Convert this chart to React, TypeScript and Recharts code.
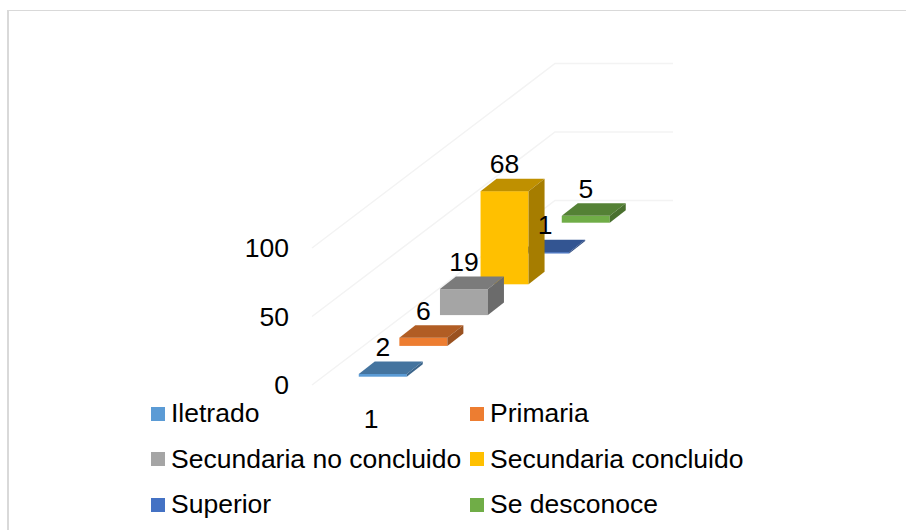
import React from "react";
import {
  BarChart,
  Bar,
  XAxis,
  YAxis,
  CartesianGrid,
  Legend,
  LabelList,
} from "recharts";

const FONT = '"Liberation Sans", Arial, sans-serif';
const TEXT_SIZE = 26.5;

// Reading order of the reference (front of the 3D chart first)
const levels = [
  "Iletrado",
  "Primaria",
  "Secundaria no concluido",
  "Secundaria concluido",
  "Superior",
  "Se desconoce",
];
const counts = [2, 6, 19, 68, 1, 5];
const frontColors = ["#5B9BD5", "#ED7D31", "#A5A5A5", "#FFC000", "#4472C4", "#70AD47"];
const topColors = ["#44749F", "#B15D24", "#7B7B7B", "#BF9000", "#335592", "#548135"];
const sideColors = ["#3B658B", "#9A5120", "#6B6B6B", "#A67D00", "#2C4A80", "#49702E"];
const yTicks = [0, 50, 100];
const categoryLabel = "1";

// Painted back to front, the reversed x axis puts them back in reading order
const data = levels
  .map((level, i) => ({ level, count: counts[i], depth: i }))
  .reverse();

// 3D projection
const ROW_LIFT = 30.8;
const FLOOR_LIFT = 8.3;
const BOX_WIDTH = 48;
const BOX_DX = 16;
const BOX_DY = 12.5;
const WALL_DX = 243;
const WALL_DY = 184.5;

const Box3D = (props: any) => {
  const { x, y, width, height, depth } = props;
  const lift = FLOOR_LIFT + ROW_LIFT * depth;
  const top = y - lift;
  const bottom = y + height - lift;
  // the band is narrower than a box, neighbours overlap like in the reference
  const left = x + width / 2 - BOX_WIDTH / 2;
  const right = left + BOX_WIDTH;
  return (
    <g>
      <rect x={left} y={top} width={BOX_WIDTH} height={height} fill={frontColors[depth]} />
      <polygon
        points={`${left},${top} ${left + BOX_DX},${top - BOX_DY} ${right + BOX_DX},${top - BOX_DY} ${right},${top}`}
        fill={topColors[depth]}
      />
      <polygon
        points={`${right},${top} ${right + BOX_DX},${top - BOX_DY} ${right + BOX_DX},${bottom - BOX_DY} ${right},${bottom}`}
        fill={sideColors[depth]}
      />
    </g>
  );
};

const BoxLabel = (props: any) => {
  const { x, y, width, value, index } = props;
  const depth = data[index].depth;
  return (
    <text
      x={x + width / 2}
      y={y - FLOOR_LIFT - ROW_LIFT * depth - 27}
      textAnchor="middle"
      dominantBaseline="central"
      fontSize={TEXT_SIZE}
      fontFamily={FONT}
      fill="#000"
    >
      {value}
    </text>
  );
};

const WallLine = (props: any) => {
  const { x1, y1, x2 } = props;
  const startX = x1 + 16;
  return (
    <polyline
      points={`${startX},${y1} ${startX + WALL_DX},${y1 - WALL_DY} ${x2},${y1 - WALL_DY}`}
      fill="none"
      stroke="#F3F3F3"
      strokeWidth={1.5}
    />
  );
};

const LegendGrid = () => (
  <div
    style={{
      display: "grid",
      gridTemplateColumns: "319px 300px",
      gridAutoRows: "45.5px",
      fontFamily: FONT,
      fontSize: TEXT_SIZE,
      color: "#000",
    }}
  >
    {levels.map((level, i) => (
      <div key={level} style={{ display: "flex", alignItems: "center", whiteSpace: "nowrap" }}>
        <span
          style={{
            width: 14,
            height: 14,
            marginRight: 6,
            background: frontColors[i],
            flex: "none",
          }}
        />
        {level}
      </div>
    ))}
  </div>
);

export default function App() {
  return (
    <div style={{ position: "absolute", left: 0, top: 0, width: 906, height: 530, overflow: "hidden" }}>
      <BarChart
        width={906}
        height={530}
        data={data}
        margin={{ top: 248, right: 233, bottom: 115, left: 0 }}
      >
        <CartesianGrid vertical={false} horizontal={WallLine} />
        <XAxis
          dataKey="level"
          reversed
          height={30}
          padding={{ left: 66.7, right: 66.7 }}
          axisLine={false}
          tickLine={false}
          ticks={[levels[0]]}
          interval={0}
          tickFormatter={() => categoryLabel}
          tick={{ fontSize: TEXT_SIZE, fontFamily: FONT, fill: "#000", dx: -12, dy: 16 }}
        />
        <YAxis
          width={296}
          domain={[0, 100]}
          ticks={yTicks}
          axisLine={false}
          tickLine={false}
          tickMargin={1}
          tick={{ fontSize: TEXT_SIZE, fontFamily: FONT, fill: "#000" }}
        />
        <Legend
          layout="horizontal"
          align="center"
          verticalAlign="middle"
          content={LegendGrid}
          wrapperStyle={{ left: 151, top: 391, width: 640 }}
        />
        <Bar
          dataKey="count"
          isAnimationActive={false}
          shape={(p: any) => <Box3D {...p} depth={p.payload.depth} />}
        >
          <LabelList dataKey="count" content={BoxLabel} />
        </Bar>
      </BarChart>
      <div
        style={{
          position: "absolute",
          left: 7,
          top: 10,
          right: 0,
          bottom: 0,
          borderLeft: "2px solid #D9D9D9",
          borderTop: "1.5px solid #D9D9D9",
          pointerEvents: "none",
        }}
      />
    </div>
  );
}
